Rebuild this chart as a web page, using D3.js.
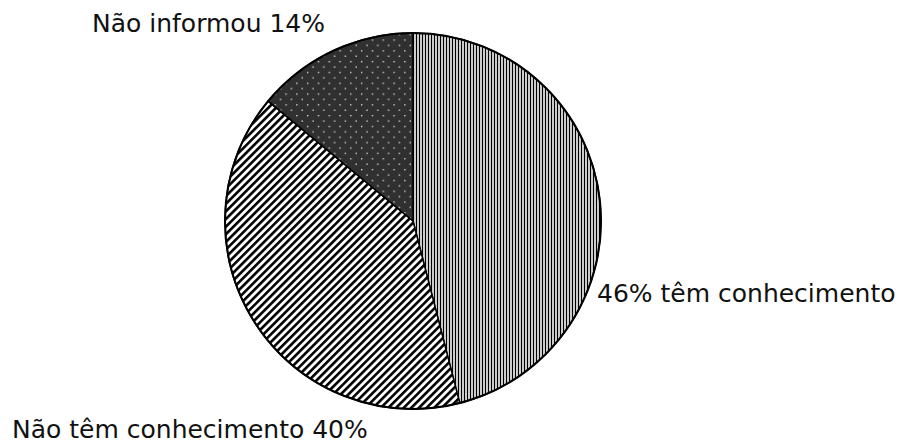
<!DOCTYPE html>
<html>
<head>
<meta charset="utf-8">
<script src="https://cdn.jsdelivr.net/npm/d3@7"></script>
<style>
body { margin: 0; background: #fff; }
svg { display: block; }
.lbl { font-family: "DejaVu Sans", sans-serif; font-size: 25px; fill: #111; }
</style>
</head>
<body>
<svg id="chart" width="911" height="443"></svg>
<script>

// chart data
var categories = ["têm conhecimento", "Não têm conhecimento", "Não informou"];
var values     = [46, 40, 14];
var labels     = ["46% têm conhecimento", "Não têm conhecimento 40%", "Não informou 14%"];
var fills      = ["url(#vstripes)", "url(#diag)", "url(#dots)"];

var svg    = d3.select("#chart"),
    cx     = 413,
    cy     = 221,
    radius = 188;

var defs = svg.append("defs");

// vertical stripes
var p1 = defs.append("pattern")
    .attr("id", "vstripes")
    .attr("patternUnits", "userSpaceOnUse")
    .attr("width", 3).attr("height", 3);
p1.append("rect").attr("width", 3).attr("height", 3).attr("fill", "#fff");
p1.append("rect").attr("x", 0).attr("width", 1).attr("height", 3).attr("fill", "#000");
p1.append("rect").attr("x", 1.5).attr("width", 1).attr("height", 3).attr("fill", "#9a9a9a");

// diagonal hatch
var p2 = defs.append("pattern")
    .attr("id", "diag")
    .attr("patternUnits", "userSpaceOnUse")
    .attr("width", 5.4).attr("height", 5.4)
    .attr("patternTransform", "rotate(45)");
p2.append("rect").attr("width", 5.4).attr("height", 5.4).attr("fill", "#fff");
p2.append("rect").attr("width", 2.6).attr("height", 5.4).attr("fill", "#000");

// dark with dots
var p3 = defs.append("pattern")
    .attr("id", "dots")
    .attr("patternUnits", "userSpaceOnUse")
    .attr("width", 10.8).attr("height", 10.8);
p3.append("rect").attr("width", 10.8).attr("height", 10.8).attr("fill", "#303030");
p3.append("rect").attr("x", 2).attr("y", 2).attr("width", 1.3).attr("height", 1.3).attr("fill", "#e8e8e8");
p3.append("rect").attr("x", 7.4).attr("y", 7.4).attr("width", 1.3).attr("height", 1.3).attr("fill", "#e8e8e8");

var pie = d3.pie().sort(null).value(function(d) { return d; });
var arc = d3.arc().innerRadius(0).outerRadius(radius);

var g = svg.append("g").attr("transform", "translate(" + cx + "," + cy + ")");

g.selectAll("path.slice")
    .data(pie(values))
    .enter()
    .append("path")
    .attr("class", "slice")
    .attr("d", arc)
    .attr("fill", function(d, i) { return fills[i]; })
    .attr("stroke", "#000")
    .attr("stroke-width", 1.5);

// outer ring
g.append("circle")
    .attr("r", radius)
    .attr("fill", "none")
    .attr("stroke", "#000")
    .attr("stroke-width", 2);

// label spots
var labelPos = [[597, 302], [12, 438], [92, 32]];

svg.selectAll("text.lbl")
    .data(labels)
    .enter()
    .append("text")
    .attr("class", "lbl")
    .attr("x", function(d, i) { return labelPos[i][0]; })
    .attr("y", function(d, i) { return labelPos[i][1]; })
    .text(function(d) { return d; });

</script>
</body>
</html>
